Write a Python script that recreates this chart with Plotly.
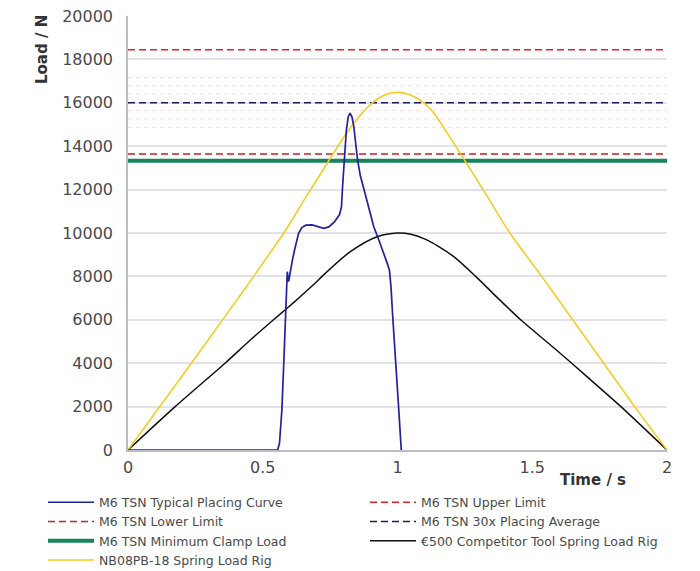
import plotly.graph_objects as go

# ---- data ----
typical_t = [0, 0.555, 0.562, 0.571, 0.578, 0.584, 0.588, 0.591, 0.596, 0.602, 0.61, 0.618,
             0.633, 0.645, 0.66, 0.683, 0.705, 0.726, 0.745, 0.765, 0.785, 0.792, 0.797,
             0.803, 0.81, 0.817, 0.824, 0.831, 0.838, 0.845, 0.852, 0.862, 0.875, 0.893,
             0.912, 0.93, 0.949, 0.962, 0.97, 0.976, 0.982, 0.99, 0.999, 1.006, 1.014]
typical_load = [0, 0, 300, 1843, 4000, 6143, 7600, 8217, 7756, 8217, 8750, 9217,
                9985, 10250, 10360, 10370, 10300, 10215, 10280, 10500, 10850, 11200, 12300,
                13600, 14700, 15350, 15520, 15350, 14900, 14100, 13360, 12650, 12000, 11100,
                10290, 9700, 9100, 8600, 8300, 7500, 6200, 4800, 3200, 1600, 0]

competitor_t = [0, 0.175, 0.36, 0.454, 0.54, 0.59, 0.639, 0.7, 0.72, 0.825, 0.924, 1.0,
                1.05, 1.1, 1.15, 1.209, 1.29, 1.36, 1.457, 1.581, 1.705, 1.829, 2.0]
competitor_load = [0, 2000, 4000, 5069, 6000, 6530, 7065, 7750, 8000, 9140, 9830, 10000,
                   9940, 9730, 9400, 8909, 8000, 7150, 6000, 4700, 3360, 2000, 0]

nb08_t = [0, 0.2, 0.4, 0.578, 0.66, 0.745, 0.8, 0.85, 0.906, 0.95, 1.0, 1.05,
          1.098, 1.135, 1.19, 1.25, 1.33, 1.417, 1.535, 1.65, 1.765, 1.88, 2.0]
nb08_load = [0, 3400, 6850, 10000, 11650, 13330, 14400, 15250, 16000, 16350, 16490, 16350,
             16000, 15515, 14500, 13330, 11750, 10000, 8000, 6000, 4000, 2000, 0]

upper_limit = 18450
lower_limit = 13640
placing_average = 16000
min_clamp = 13330
spread_levels = [14870, 15250, 15640, 16400, 16780, 17160]
time_range = [0, 2]

x_ticks = [0, 0.5, 1, 1.5, 2]
x_tick_labels = ["0", "0.5", "1", "1.5", "2"]
y_ticks = list(range(0, 20001, 2000))
y_tick_labels = [str(v) for v in y_ticks]

FONT = "DejaVu Sans"
fig = go.Figure()

for lvl in spread_levels:
    fig.add_trace(go.Scatter(x=time_range, y=[lvl, lvl], mode="lines", showlegend=False,
                             hoverinfo="skip",
                             line=dict(color="rgba(235,150,150,0.35)", width=1, dash="4px,4px")))

fig.add_trace(go.Scatter(x=time_range, y=[min_clamp, min_clamp], mode="lines",
                         name="M6 TSN Minimum Clamp Load", legend="legend", legendrank=3,
                         line=dict(color="#16865a", width=4)))
fig.add_trace(go.Scatter(x=time_range, y=[upper_limit, upper_limit], mode="lines",
                         name="M6 TSN Upper Limit", legend="legend2", legendrank=1,
                         line=dict(color="#e8202a", width=1.5, dash="7px,4px")))
fig.add_trace(go.Scatter(x=time_range, y=[lower_limit, lower_limit], mode="lines",
                         name="M6 TSN Lower Limit", legend="legend", legendrank=2,
                         line=dict(color="#c81e24", width=1.5, dash="7px,4px")))
fig.add_trace(go.Scatter(x=time_range, y=[placing_average, placing_average], mode="lines",
                         name="M6 TSN 30x Placing Average", legend="legend2", legendrank=2,
                         line=dict(color="#1c1c5e", width=1.5, dash="7px,4px")))
fig.add_trace(go.Scatter(x=competitor_t, y=competitor_load, mode="lines",
                         name="€500 Competitor Tool Spring Load Rig", legend="legend2",
                         legendrank=3,
                         line=dict(color="#111111", width=1.5, shape="spline", smoothing=0.8)))
fig.add_trace(go.Scatter(x=nb08_t, y=nb08_load, mode="lines",
                         name="NB08PB-18 Spring Load Rig", legend="legend", legendrank=4,
                         line=dict(color="#f5cc1c", width=1.5, shape="spline", smoothing=0.8)))
fig.add_trace(go.Scatter(x=typical_t, y=typical_load, mode="lines",
                         name="M6 TSN Typical Placing Curve", legend="legend", legendrank=1,
                         line=dict(color="#22229a", width=1.7)))

legend_common = dict(orientation="v", xref="paper", yref="container", y=0.146,
                     xanchor="left", yanchor="top",
                     font=dict(family=FONT, size=12.5, color="#4a4a4a"),
                     itemwidth=46, tracegroupgap=0, bgcolor="rgba(0,0,0,0)")

fig.update_layout(
    width=700, height=571,
    margin=dict(l=128, r=33, t=16, b=121, autoexpand=False),
    paper_bgcolor="white", plot_bgcolor="white",
    font=dict(family=FONT, color="#4a4a4a"),
    showlegend=True,
    legend=dict(x=(43 - 128) / 539, **legend_common),
    legend2=dict(x=(365 - 128) / 539, **legend_common),
    xaxis=dict(range=[0, 2], tickvals=x_ticks, ticktext=x_tick_labels, automargin=False,
               showgrid=False, zeroline=False, showline=True, linecolor="#b8bccb",
               linewidth=1.5, ticks="", ticklabelstandoff=2,
               tickfont=dict(family=FONT, size=16, color="#4a4a4a")),
    yaxis=dict(range=[0, 20000], tickvals=y_ticks, ticktext=y_tick_labels, automargin=False,
               showgrid=True, gridcolor="#e2e2ea", gridwidth=1.5,
               zeroline=False, showline=True, linecolor="#b8bccb", linewidth=1.5,
               ticks="", ticklabelstandoff=10,
               tickfont=dict(family=FONT, size=16, color="#4a4a4a")),
    annotations=[
        dict(text="<b>Load / N</b>", xref="paper", yref="paper",
             x=(42 - 128) / 539, y=(450 - 50) / 434, textangle=-90, showarrow=False,
             xanchor="center", yanchor="middle",
             font=dict(family=FONT, size=15, color="#333333")),
        dict(text="<b>Time / s</b>", xref="paper", yref="paper",
             x=(593 - 128) / 539, y=(450 - 480) / 434, showarrow=False,
             xanchor="center", yanchor="middle",
             font=dict(family=FONT, size=15, color="#333333")),
    ],
)

fig.write_html("out.html", config={"displayModeBar": False},
               post_script="document.body.style.margin='0';")
